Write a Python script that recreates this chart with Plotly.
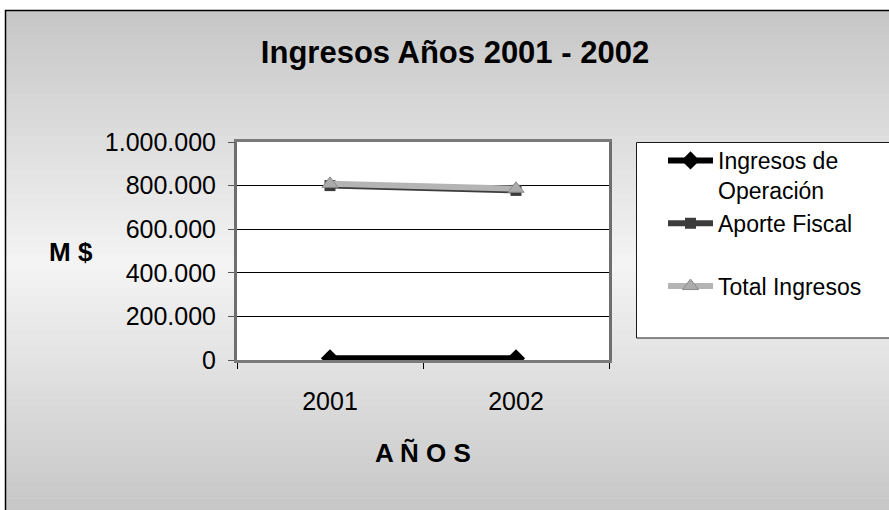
import plotly.graph_objects as go

# ---- data ----
years = ["2001", "2002"]
ingresos_operacion = [8000, 7500]
aporte_fiscal = [800000, 778000]
total_ingresos = [808000, 785500]
y_ticks = [0, 200000, 400000, 600000, 800000, 1000000]
series_names = ["Ingresos de<br>Operación", "Aporte Fiscal<br> ", "Total Ingresos"]

W, H = 889, 510
L, R, T, B = 237, 609, 142, 360  # plot area in px


def px2x(px):
    return (px - L) / (R - L)


def px2y(py):
    return (B - py) / (B - T)


fig = go.Figure()

fig.add_trace(go.Scatter(
    x=years, y=ingresos_operacion, name=series_names[0],
    mode="lines+markers", legendgroup="a",
    line=dict(color="#000000", width=6),
    marker=dict(symbol="diamond", size=14, color="#000000"),
))
fig.add_trace(go.Scatter(
    x=years, y=aporte_fiscal, name=series_names[1],
    mode="lines+markers", legendgroup="b",
    line=dict(color="#3c3c3c", width=6),
    marker=dict(symbol="square", size=11, color="#3c3c3c"),
))
fig.add_trace(go.Scatter(
    x=years, y=total_ingresos, name=series_names[2],
    mode="lines+markers", legendgroup="c",
    line=dict(color="#b4b4b4", width=6),
    marker=dict(symbol="triangle-up", size=14, color="#ababab",
                line=dict(color="#8a8a8a", width=1)),
))

# ---- background gradient (decoration) ----
shapes = []
top_px, bot_px = 10, 515
n = 60


def grad_color(py):
    mid = 265.0
    if py <= mid:
        t = (py - top_px) / (mid - top_px)
        c = 198 + (244 - 198) * t
    else:
        t = (py - mid) / (bot_px - mid)
        c = 244 + (198 - 244) * t
    c = int(round(c))
    return f"rgb({c},{c},{c})"


step = (bot_px - top_px) / n
for i in range(n):
    y0 = top_px + i * step
    y1 = y0 + step + 0.6
    shapes.append(dict(
        type="rect", xref="paper", yref="paper", layer="below",
        x0=px2x(5), x1=px2x(900), y0=px2y(y1), y1=px2y(y0),
        fillcolor=grad_color(y0 + step / 2), line=dict(width=0),
    ))
shapes.append(dict(
    type="rect", xref="paper", yref="paper", layer="below",
    x0=px2x(5.5), x1=px2x(900), y0=px2y(520), y1=px2y(10.5),
    fillcolor="rgba(0,0,0,0)", line=dict(color="#000000", width=1.5),
))
shapes.append(dict(
    type="rect", xref="paper", yref="paper", layer="below",
    x0=0, x1=1, y0=0, y1=1, fillcolor="#ffffff", line=dict(width=0),
))
# legend frame (extends past the right edge like the original)
shapes.append(dict(
    type="rect", xref="paper", yref="paper", layer="above",
    x0=px2x(636.5), x1=px2x(905), y0=px2y(338), y1=px2y(142.5),
    fillcolor="#ffffff", line=dict(color="#1a1a1a", width=1),
))

fig.update_layout(
    width=W, height=H,
    margin=dict(l=L, r=W - R, t=T, b=H - B),
    paper_bgcolor="#ffffff",
    plot_bgcolor="#ffffff",
    separators=",.",
    font=dict(family="Liberation Sans, Arial, sans-serif", size=25, color="#000000"),
    title=dict(
        text="<b>Ingresos Años 2001 - 2002</b>",
        x=455 / W, xref="container",
        y=1 - 52 / H, yref="container", xanchor="center", yanchor="middle",
        font=dict(size=31, color="#000000"),
    ),
    shapes=shapes,
    showlegend=True,
    legend=dict(
        x=px2x(663), y=px2y(139), xanchor="left", yanchor="top",
        bgcolor="rgba(0,0,0,0)", borderwidth=0,
        font=dict(size=23, color="#000000"),
        traceorder="grouped", tracegroupgap=0, valign="top",
        itemwidth=45,
    ),
    annotations=[dict(
        text="<b>M $</b>", x=px2x(71), y=px2y(252), xref="paper", yref="paper",
        showarrow=False, font=dict(size=26, color="#000000"),
        xanchor="center", yanchor="middle",
    )],
)

fig.update_xaxes(
    type="category", categoryorder="array", categoryarray=years,
    range=[-0.5, 1.5], tickson="boundaries",
    ticks="outside", ticklen=6, tickcolor="#000000", tickwidth=1,
    showgrid=False, zeroline=False,
    showline=True, linecolor="#7a7a7a", linewidth=3, mirror=True,
    ticklabelstandoff=17,
    tickfont=dict(size=25),
    title=dict(text="<b>A Ñ O S</b>", font=dict(size=26), standoff=30),
)
fig.update_yaxes(
    range=[0, 1000000], tickvals=y_ticks, tickformat=",d",
    ticks="outside", ticklen=6, tickcolor="#555555", tickwidth=1,
    showgrid=True, gridcolor="#000000", gridwidth=1,
    zeroline=False,
    showline=True, linecolor="#6e6e6e", linewidth=3, mirror=True,
    ticklabelstandoff=7,
    tickfont=dict(size=25),
)

fig.write_html("out.html", config={"displayModeBar": False},
               post_script="document.body.style.margin='0';")
